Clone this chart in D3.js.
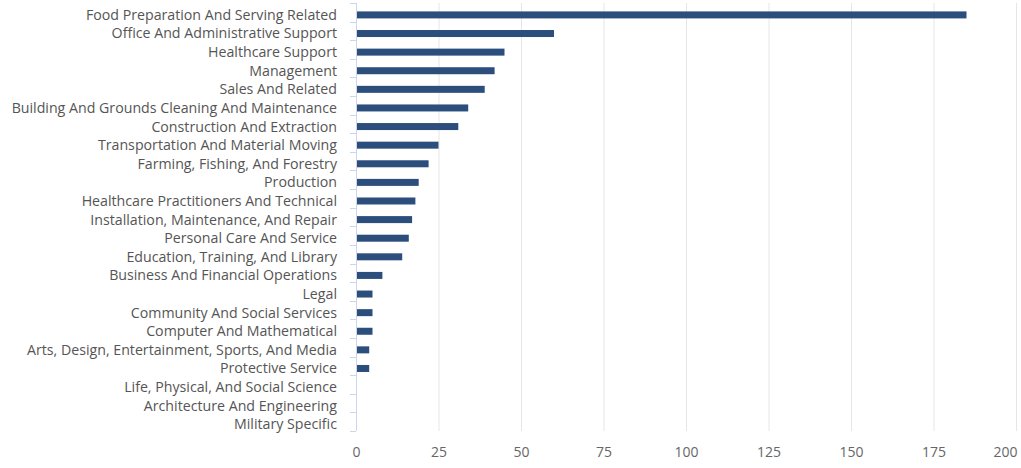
<!DOCTYPE html>
<html>
<head>
<meta charset="utf-8">
<script src="https://cdn.jsdelivr.net/npm/d3@7"></script>
<style>
html,body{margin:0;padding:0;background:#fff;}
svg{display:block;}
</style>
</head>
<body>
<svg id="chart" width="1021" height="468"></svg>
<script>
const categories = [
  "Food Preparation And Serving Related",
  "Office And Administrative Support",
  "Healthcare Support",
  "Management",
  "Sales And Related",
  "Building And Grounds Cleaning And Maintenance",
  "Construction And Extraction",
  "Transportation And Material Moving",
  "Farming, Fishing, And Forestry",
  "Production",
  "Healthcare Practitioners And Technical",
  "Installation, Maintenance, And Repair",
  "Personal Care And Service",
  "Education, Training, And Library",
  "Business And Financial Operations",
  "Legal",
  "Community And Social Services",
  "Computer And Mathematical",
  "Arts, Design, Entertainment, Sports, And Media",
  "Protective Service",
  "Life, Physical, And Social Science",
  "Architecture And Engineering",
  "Military Specific"
];
const values = [185, 60, 45, 42, 39, 34, 31, 25, 22, 19, 18, 17, 16, 14, 8, 5, 5, 5, 4, 4, 0, 0, 0];
const xTicks = [0, 25, 50, 75, 100, 125, 150, 175, 200];

(function () {
const svg = d3.select("#chart");
const pL = 356, pR = 1016, pT = 3, pB = 431;
const font = "'Open Sans', 'DejaVu Sans', sans-serif";

const x = d3.scaleLinear().domain([0, 200]).range([pL, pR]);
const y = d3.scaleBand().domain(categories).range([pT, pB]).paddingInner(0);
const barH = 7;
const barOffset = 2.6;

// gridlines
svg.append("g")
  .selectAll("line")
  .data(xTicks.filter(d => d > 0))
  .join("line")
  .attr("x1", d => x(d) + 0.5).attr("x2", d => x(d) + 0.5)
  .attr("y1", pT).attr("y2", pB)
  .attr("stroke", "#e6e6e6").attr("stroke-width", 1);

// x axis labels
const xAxis = svg.append("g")
  .attr("transform", `translate(0,${pB})`)
  .call(d3.axisBottom(x).tickValues(xTicks).tickSize(0).tickPadding(16));
xAxis.select(".domain").remove();
xAxis.selectAll("text")
  .attr("font-family", font).attr("font-size", 14).attr("fill", "#666");
xAxis.selectAll(".tick").filter(d => d === 200).select("text")
  .attr("text-anchor", "end").attr("x", 1);

// left axis line and boundary ticks
const bounds = categories.map(c => y(c)).concat([pB]);
svg.append("line")
  .attr("x1", pL + 0.5).attr("x2", pL + 0.5)
  .attr("y1", pT).attr("y2", pB)
  .attr("stroke", "#ccd6eb");
svg.append("g").selectAll("line")
  .data(bounds)
  .join("line")
  .attr("x1", pL - 6).attr("x2", pL)
  .attr("y1", d => Math.round(d) + 0.5).attr("y2", d => Math.round(d) + 0.5)
  .attr("stroke", "#ccd6eb");

// bars
svg.append("g")
  .selectAll("rect")
  .data(categories.map((c, i) => ({c, v: values[i]})))
  .join("rect")
  .attr("x", x(0) + 1)
  .attr("y", d => y(d.c) + y.bandwidth() / 2 + barOffset - barH / 2)
  .attr("width", d => Math.max(0, x(d.v) - x(0) - 1))
  .attr("height", barH)
  .attr("fill", "#2b4e7c");

// category labels
svg.append("g")
  .selectAll("text")
  .data(categories)
  .join("text")
  .attr("x", 337)
  .attr("y", d => y(d) + y.bandwidth() / 2 + barOffset)
  .attr("dy", "0.35em")
  .attr("text-anchor", "end")
  .attr("font-family", font)
  .attr("font-size", 14.2)
  .attr("fill", "#555")
  .text(d => d);
})();
</script>
</body>
</html>
